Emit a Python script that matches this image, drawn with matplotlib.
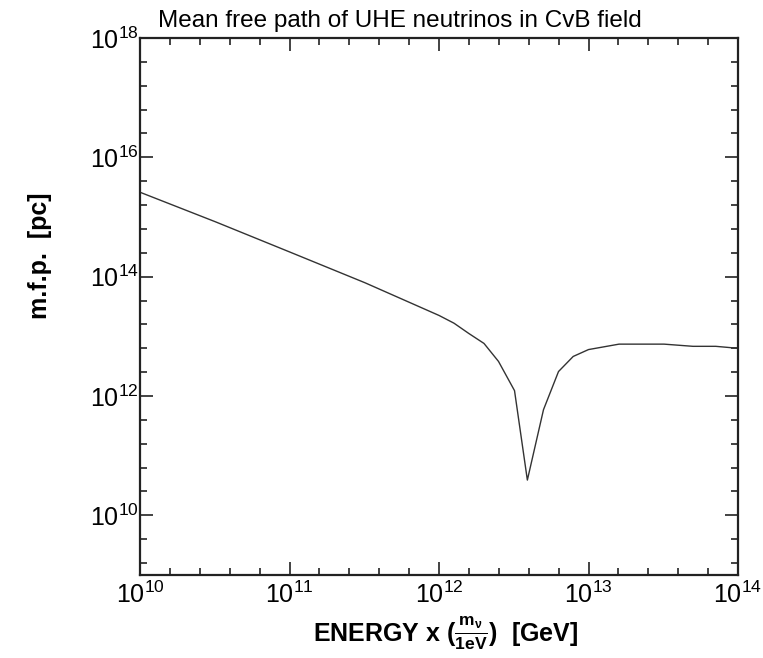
import numpy as np
import matplotlib
matplotlib.use("Agg")
import matplotlib.pyplot as plt
from matplotlib.ticker import FixedLocator, NullFormatter, FuncFormatter

plt.rcParams['font.family'] = ['Liberation Sans', 'DejaVu Sans']
plt.rcParams['mathtext.fontset'] = 'custom'
plt.rcParams['mathtext.rm'] = 'Liberation Sans'
plt.rcParams['mathtext.it'] = 'Liberation Sans:italic'
plt.rcParams['mathtext.bf'] = 'Liberation Sans:bold'

# Data
energy = [1.0e10, 3.2e10, 1.0e11, 3.2e11, 1.0e12, 1.26e12, 1.58e12, 2.0e12,
          2.5e12, 3.2e12, 3.9e12, 5.0e12, 6.3e12, 7.9e12, 1.0e13, 1.6e13,
          3.2e13, 5.0e13, 7.1e13, 1.0e14]
mfp = [2.6e15, 8.3e14, 2.6e14, 7.9e13, 2.24e13, 1.66e13, 1.12e13, 7.6e12,
       3.8e12, 1.23e12, 3.9e10, 5.9e11, 2.57e12, 4.6e12, 6.0e12, 7.4e12,
       7.4e12, 6.8e12, 6.8e12, 6.3e12]

x_major = [1e10, 1e11, 1e12, 1e13, 1e14]
y_major = [1e10, 1e12, 1e14, 1e16, 1e18]

title = "Mean free path of UHE neutrinos in CvB field"
xlabel = r"ENERGY x ($\mathbf{\frac{m_{\nu}}{1eV}}$)  [GeV]"
ylabel = "m.f.p.  [pc]"

W, H = 763, 658
fig = plt.figure(figsize=(W / 100, H / 100), dpi=100)
ax = fig.add_axes([140 / W, 1 - 575 / H, (738 - 140) / W, (575 - 38) / H])

ax.plot(energy, mfp, color='#333333', lw=1.0)
ax.set_xscale('log')
ax.set_yscale('log')
ax.set_xlim(1e10, 1e14)
ax.set_ylim(1e9, 1e18)

ax.xaxis.set_major_locator(FixedLocator(x_major))
ax.xaxis.set_minor_locator(FixedLocator([10 ** (10 + 0.2 * k) for k in range(21)]))
ax.yaxis.set_major_locator(FixedLocator(y_major))
ax.yaxis.set_minor_locator(FixedLocator([10 ** (9.2 + 0.4 * k) for k in range(23)]))

fmt = FuncFormatter(lambda v, p: r"$10^{%d}$" % round(np.log10(v)))
ax.xaxis.set_major_formatter(fmt)
ax.yaxis.set_major_formatter(fmt)
ax.xaxis.set_minor_formatter(NullFormatter())
ax.yaxis.set_minor_formatter(NullFormatter())

ax.tick_params(which='both', direction='in', top=True, right=True, width=1.2, color='#222222')
ax.tick_params(which='major', length=9.5, labelsize=18)
ax.tick_params(axis='x', which='major', pad=5)
ax.tick_params(axis='y', which='major', pad=1)
ax.tick_params(which='minor', length=5)
for s in ax.spines.values():
    s.set_linewidth(1.6)
    s.set_color('#222222')

ax.set_xlabel(xlabel, fontsize=18, fontweight='bold')
ax.xaxis.set_label_coords((446 - 140) / 598, -(633 - 575) / 537)
ax.xaxis.label.set_va('center')
ax.set_ylabel(ylabel, fontsize=18, fontweight='bold')
ax.yaxis.set_label_coords(-(140 - 40) / 598, (575 - 256) / 537)
ax.yaxis.label.set_va('center')

fig.text(158 / W, 1 - 27 / H, title, fontsize=17.5, ha='left', va='baseline')

fig.savefig("out.png", dpi=100)
